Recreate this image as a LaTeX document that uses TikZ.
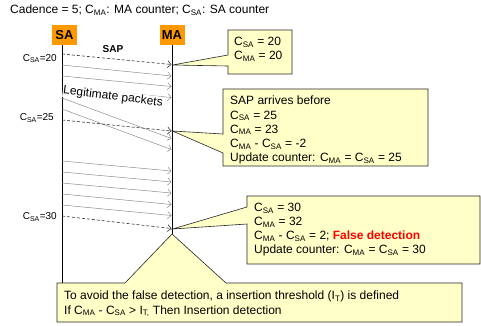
\documentclass[tikz,border=0pt]{standalone}
\usepackage{fontspec}
\setmainfont{Liberation Sans}
\usetikzlibrary{arrows.meta}
\definecolor{cfill}{RGB}{255,255,200}
\definecolor{orangelab}{RGB}{255,153,0}
\definecolor{msggray}{RGB}{140,140,140}
\definecolor{falsered}{RGB}{255,0,0}
\newcommand\Csa{C\textsubscript{SA}}
\newcommand\Cma{C\textsubscript{MA}}
\begin{document}
\begin{tikzpicture}[x=1pt,y=-1pt,
  lifeline/.style={line width=0.8pt,black},
  actor/.style={fill=orangelab, font=\fontsize{13}{15}\selectfont\bfseries, inner sep=0pt, minimum width=25pt, minimum height=20pt},
  sapmsg/.style={draw=black!80, line width=0.6pt, dash pattern=on 3pt off 2pt, -{Straight Barb[length=3.5pt,width=7pt]}},
  legit/.style={draw=msggray, line width=0.5pt, -{Straight Barb[length=3.5pt,width=7pt]}},
  calloutshape/.style={fill=cfill, draw=black!85, line width=0.6pt, line join=miter},
  ctext/.style={font=\fontsize{12}{14.1}\selectfont, align=left, anchor=north west, inner sep=0pt},
  cntlabel/.style={font=\fontsize{10}{12}\selectfont, anchor=base east, inner sep=0pt}
]
\useasboundingbox (0,0) rectangle (481,325);

\node[anchor=base west, inner sep=0pt, font=\fontsize{12}{14}\selectfont] (title) at (10,13.5) {Cadence = 5; \Cma: MA counter; \Csa: SA counter};

\node[actor] (SA) at (64.5,35) {SA};
\node[actor] (MA) at (172,35) {MA};

\coordinate (satop) at (62,45);
\coordinate (sabot) at (62,283);
\coordinate (matop) at (172.5,45);
\coordinate (mabot) at (172.5,234);
\draw[lifeline] (satop) -- (sabot);
\draw[lifeline] (matop) -- (mabot);

% legitimate packets
\foreach \n/\ys/\ye in {1/65/76, 2/76/86.5, 3/87/97.5, 4/98/138.5, 5/109/149.5, 6/161/171, 7/172/182, 8/183/193, 9/194/204.5, 10/205/215.5} {
  \coordinate (ls\n) at (62,\ys);
  \coordinate (le\n) at (171.5,\ye);
  \draw[legit] (ls\n) -- (le\n);
}

\node[fill=white, inner sep=0.5pt, rotate=-7, font=\fontsize{12}{14}\selectfont] (legitlabel) at (113,97) {Legitimate packets};

% SAP messages
\foreach \n/\ys/\ye in {1/54/64.5, 2/120/131, 3/216/228.5} {
  \coordinate (ss\n) at (62,\ys);
  \coordinate (se\n) at (171.5,\ye);
  \draw[sapmsg] (ss\n) -- (se\n);
}
\node[font=\fontsize{10}{12}\selectfont\bfseries, inner sep=0pt] (sap) at (113,49) {SAP};

\node[cntlabel] (c20) at (57,61) {\Csa=20};
\node[cntlabel] (c25) at (54,120.7) {\Csa=25};
\node[cntlabel] (c30) at (57,219.5) {\Csa=30};

% callout 1
\coordinate (tip1) at (172.5,65);
\draw[calloutshape] (228,30) -- (292,30) -- (292,74) -- (228,74) -- (228,66) -- (tip1) -- (228,55) -- cycle;
\node[ctext] (call1) at (234,37) {\Csa{} = 20\\\Cma{} = 20};

% callout 2
\coordinate (tip2) at (172.5,131);
\draw[calloutshape] (223,89) -- (428,89) -- (428,166) -- (223,166) -- (223,153) -- (tip2) -- (223,134) -- cycle;
\node[ctext] (call2) at (230,96) {SAP arrives before\\\Csa{} = 25\\\Cma{} = 23\\\Cma{} - \Csa{} = -2\\Update counter: \Cma{} = \Csa{} = 25};

% callout 3
\coordinate (tip3) at (172.5,229);
\draw[calloutshape] (247,196) -- (480,196) -- (480,264) -- (247,264) -- (247,224) -- (tip3) -- (247,207) -- cycle;
\node[ctext] (call3) at (254,203) {\Csa{} = 30\\\Cma{} = 32\\\Cma{} - \Csa{} = 2; {\color{falsered}\bfseries False detection}\\Update counter: \Cma{} = \Csa{} = 30};

% bottom callout
\coordinate (tip4) at (172,234);
\draw[calloutshape] (57,283) -- (125,283) -- (tip4) -- (226,283) -- (462,283) -- (462,322) -- (57,322) -- cycle;
\node[ctext] (call4) at (64,291) {To avoid the false detection, a insertion threshold (I\textsubscript{T}) is defined\\If \Cma{} - \Csa{} > I\textsubscript{T,} Then Insertion detection};
\end{tikzpicture}
\end{document}
